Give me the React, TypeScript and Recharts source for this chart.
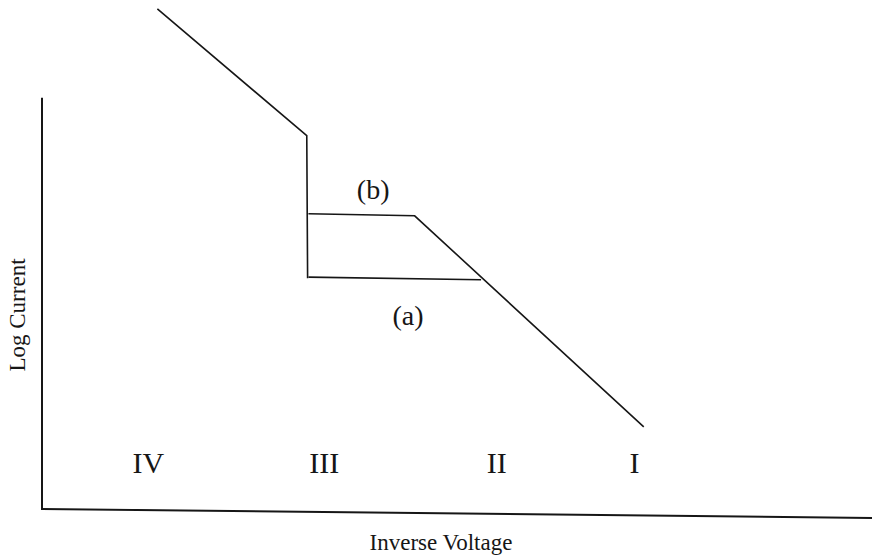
import React from "react";
import {
  LineChart,
  Line,
  XAxis,
  YAxis,
  ReferenceLine,
  ReferenceDot,
} from "recharts";

// schematic in arbitrary units (0-100 on both axes)
const mainPath = [
  { x: 13.9, y: 98.3 },
  { x: 31.9, y: 73.9 },
  { x: 32.0, y: 46.5 },
];
const branchA = [
  { x: 32.1, y: 46.7 },
  { x: 52.9, y: 46.2 },
];
const branchB = [
  { x: 32.1, y: 58.9 },
  { x: 44.9, y: 58.5 },
  { x: 72.5, y: 17.9 },
];

const regionNames = ["IV", "III", "II", "I"];
const regionX = [12.8, 34.0, 54.8, 71.4];
const regionY = 11.0;

const branchNames = ["(b)", "(a)"];
const branchLabelX = [39.9, 44.1];
const branchLabelY = [63.7, 39.4];

const FONT = "'Liberation Serif', 'DejaVu Serif', serif";
const INK = "#161616";

export default function App() {
  return (
    <div style={{ position: "absolute", left: 0, top: 0 }}>
      <LineChart
        width={876}
        height={558}
        margin={{ top: 0, right: 4, bottom: 0, left: 0 }}
      >
        <XAxis
          type="number"
          dataKey="x"
          domain={[0, 100]}
          allowDataOverflow
          axisLine={false}
          tickLine={false}
          tick={false}
          height={38}
          label={{
            value: "Inverse Voltage",
            position: "insideBottom",
            dx: -16,
            offset: 8,
            style: { fontFamily: FONT, fontSize: 23, fill: INK },
          }}
        />
        <YAxis
          type="number"
          dataKey="y"
          domain={[0, 100]}
          allowDataOverflow
          axisLine={false}
          tickLine={false}
          tick={false}
          width={42}
          label={{
            value: "Log Current",
            angle: -90,
            position: "insideLeft",
            dx: 12,
            dy: 55,
            style: { fontFamily: FONT, fontSize: 23, fill: INK, textAnchor: "middle" },
          }}
        />
        {/* hand-drawn axes, the bottom one sags a little to the right */}
        <ReferenceLine
          segment={[
            { x: 0, y: 1.9 },
            { x: 0, y: 81.2 },
          ]}
          stroke={INK}
          strokeWidth={2}
          ifOverflow="visible"
        />
        <ReferenceLine
          segment={[
            { x: 0, y: 2.1 },
            { x: 100, y: 0.4 },
          ]}
          stroke={INK}
          strokeWidth={2}
          ifOverflow="visible"
        />
        <Line
          data={mainPath}
          dataKey="y"
          type="linear"
          stroke={INK}
          strokeWidth={1.6}
          dot={false}
          isAnimationActive={false}
        />
        <Line
          data={branchA}
          dataKey="y"
          type="linear"
          stroke={INK}
          strokeWidth={1.6}
          dot={false}
          isAnimationActive={false}
        />
        <Line
          data={branchB}
          dataKey="y"
          type="linear"
          stroke={INK}
          strokeWidth={1.6}
          dot={false}
          isAnimationActive={false}
        />
        {regionNames.map((name, i) => (
          <ReferenceDot
            key={name}
            x={regionX[i]}
            y={regionY}
            r={0}
            fill="none"
            stroke="none"
            label={{
              value: name,
              position: "center",
              style: { fontFamily: FONT, fontSize: 30, fill: INK },
            }}
          />
        ))}
        {branchNames.map((name, i) => (
          <ReferenceDot
            key={name}
            x={branchLabelX[i]}
            y={branchLabelY[i]}
            r={0}
            fill="none"
            stroke="none"
            label={{
              value: name,
              position: "center",
              style: { fontFamily: FONT, fontSize: 28, fill: INK },
            }}
          />
        ))}
      </LineChart>
    </div>
  );
}
